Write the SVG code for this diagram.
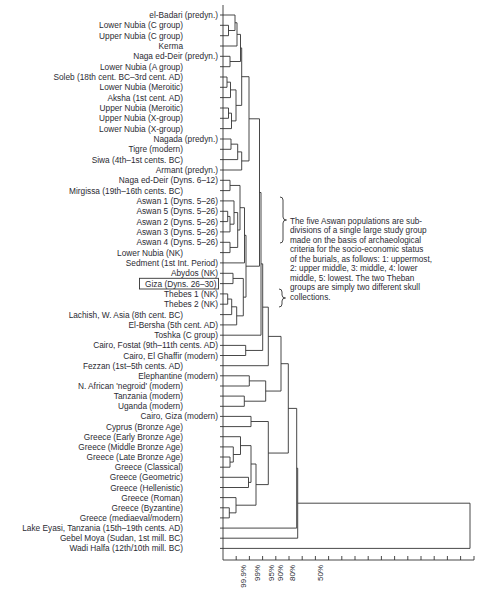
<svg xmlns="http://www.w3.org/2000/svg" width="504" height="594" viewBox="0 0 504 594">
<style>
text{font-family:"Liberation Sans",Arial,sans-serif;fill:#2b2b33}
.l{font-size:8.3px;text-anchor:end}
.n{font-size:8.2px}
.ax{font-size:8px;text-anchor:end}
.ln{fill:none;stroke:#333;stroke-width:0.9}
</style>
<rect width="504" height="594" fill="#fff"/>
<g id="leaves">
<g id="n1"><text class="l" x="218" y="18">el-Badari (predyn.)</text></g>
<g id="n2"><text class="l" x="183" y="28.3">Lower Nubia (C group)</text></g>
<g id="n3"><text class="l" x="183" y="38.7">Upper Nubia (C group)</text></g>
<g id="n4"><text class="l" x="183" y="49">Kerma</text></g>
<g id="n5"><text class="l" x="218" y="59.3">Naga ed-Deir (predyn.)</text></g>
<g id="n6"><text class="l" x="183" y="69.7">Lower Nubia (A group)</text></g>
<g id="n7"><text class="l" x="183" y="80">Soleb (18th cent. BC–3rd cent. AD)</text></g>
<g id="n8"><text class="l" x="183" y="90.3">Lower Nubia (Meroitic)</text></g>
<g id="n9"><text class="l" x="183" y="100.6">Aksha (1st cent. AD)</text></g>
<g id="n10"><text class="l" x="183" y="111">Upper Nubia (Meroitic)</text></g>
<g id="n11"><text class="l" x="183" y="121.3">Upper Nubia (X-group)</text></g>
<g id="n12"><text class="l" x="183" y="131.6">Lower Nubia (X-group)</text></g>
<g id="n13"><text class="l" x="218" y="142">Nagada (predyn.)</text></g>
<g id="n14"><text class="l" x="183" y="152.3">Tigre (modern)</text></g>
<g id="n15"><text class="l" x="183" y="162.6">Siwa (4th–1st cents. BC)</text></g>
<g id="n16"><text class="l" x="218" y="173">Armant (predyn.)</text></g>
<g id="n17"><text class="l" x="218" y="183.3">Naga ed-Deir (Dyns. 6–12)</text></g>
<g id="n18"><text class="l" x="183" y="193.6">Mirgissa (19th–16th cents. BC)</text></g>
<g id="n19"><text class="l" x="218" y="203.9">Aswan 1 (Dyns. 5–26)</text></g>
<g id="n20"><text class="l" x="218" y="214.3">Aswan 5 (Dyns. 5–26)</text></g>
<g id="n21"><text class="l" x="218" y="224.6">Aswan 2 (Dyns. 5–26)</text></g>
<g id="n22"><text class="l" x="218" y="234.9">Aswan 3 (Dyns. 5–26)</text></g>
<g id="n23"><text class="l" x="218" y="245.3">Aswan 4 (Dyns. 5–26)</text></g>
<g id="n24"><text class="l" x="183" y="255.6">Lower Nubia (NK)</text></g>
<g id="n25"><text class="l" x="218" y="265.9">Sedment (1st Int. Period)</text></g>
<g id="n26"><text class="l" x="218" y="276.3">Abydos (NK)</text></g>
<g id="n27"><rect x="139.5" y="278.3" width="79" height="10.7" fill="none" stroke="#333" stroke-width="0.9"/><text class="l" x="216.5" y="286.6">Giza (Dyns. 26–30)</text></g>
<g id="n28"><text class="l" x="218" y="296.9">Thebes 1 (NK)</text></g>
<g id="n29"><text class="l" x="218" y="307.2">Thebes 2 (NK)</text></g>
<g id="n30"><text class="l" x="183" y="317.6">Lachish, W. Asia (8th cent. BC)</text></g>
<g id="n31"><text class="l" x="218" y="327.9">El-Bersha (5th cent. AD)</text></g>
<g id="n32"><text class="l" x="218" y="338.2">Toshka (C group)</text></g>
<g id="n33"><text class="l" x="218" y="348.4">Cairo, Fostat (9th–11th cents. AD)</text></g>
<g id="n34"><text class="l" x="218" y="358.5">Cairo, El Ghaffir (modern)</text></g>
<g id="n35"><text class="l" x="183" y="368.7">Fezzan (1st–5th cents. AD)</text></g>
<g id="n36"><text class="l" x="218" y="378.8">Elephantine (modern)</text></g>
<g id="n37"><text class="l" x="183" y="389">N. African 'negroid' (modern)</text></g>
<g id="n38"><text class="l" x="183" y="399.1">Tanzania (modern)</text></g>
<g id="n39"><text class="l" x="183" y="409.3">Uganda (modern)</text></g>
<g id="n40"><text class="l" x="218" y="419.4">Cairo, Giza (modern)</text></g>
<g id="n41"><text class="l" x="183" y="429.6">Cyprus (Bronze Age)</text></g>
<g id="n42"><text class="l" x="183" y="439.7">Greece (Early Bronze Age)</text></g>
<g id="n43"><text class="l" x="183" y="449.9">Greece (Middle Bronze Age)</text></g>
<g id="n44"><text class="l" x="183" y="460">Greece (Late Bronze Age)</text></g>
<g id="n45"><text class="l" x="183" y="470.2">Greece (Classical)</text></g>
<g id="n46"><text class="l" x="183" y="480.3">Greece (Geometric)</text></g>
<g id="n47"><text class="l" x="183" y="490.5">Greece (Hellenistic)</text></g>
<g id="n48"><text class="l" x="183" y="500.6">Greece (Roman)</text></g>
<g id="n49"><text class="l" x="183" y="510.8">Greece (Byzantine)</text></g>
<g id="n50"><text class="l" x="183" y="520.9">Greece (mediaeval/modern)</text></g>
<g id="n51"><text class="l" x="183" y="531.1">Lake Eyasi, Tanzania (15th–19th cents. AD)</text></g>
<g id="n52"><text class="l" x="183" y="541.2">Gebel Moya (Sudan, 1st mill. BC)</text></g>
<g id="n53"><text class="l" x="183" y="551.4">Wadi Halfa (12th/10th mill. BC)</text></g>
</g>
<g id="connectors" class="ln">
<path d="M223,5 V560 H474 V556"/>
<path d="M236.2,560 v-4 M249.4,560 v-4 M262.6,560 v-4 M275.8,560 v-4 M289,560 v-4 M302.2,560 v-4 M315.4,560 v-4 M328.6,560 v-4 M341.8,560 v-4 M355,560 v-4 M368.2,560 v-4 M381.4,560 v-4 M394.6,560 v-4 M407.8,560 v-4 M421,560 v-4 M434.2,560 v-4 M447.4,560 v-4 M460.6,560 v-4"/>
<path d="M220,25.3 H228.5 V35.7 H220 M220,15 H235 V30.5 H228.5 M235,22.75 H237 V46 H220 M220,56.3 H230 V66.7 H220 M237,34.4 H240.5 V61.5 H230"/>
<path d="M220,77 H227 V87.3 H220 M227,82.15 H230.5 V97.6 H220 M220,108 H228.5 V118.3 H220 M228.5,113.15 H231.5 V128.6 H220 M230.5,89.9 H236 V120.9 H231.5 M240.5,47.95 H241.7 V105.4 H236"/>
<path d="M220,139 H231 V149.3 H220 M231,144.15 H237.7 V159.6 H220 M237.7,151.9 H241.7 V170 H220 M241.7,76.7 H249 V160.95 H241.7"/>
<path d="M220,180.3 H230 V190.6 H220 M220,211.3 H227.7 V221.6 H220 M227.7,216.45 H230 V231.9 H220 M220,200.9 H234 V224.2 H230 M220,242.3 H230 V252.6 H220 M234,212.55 H237.7 V247.45 H230 M230,185.45 H240 V230 H237.7 M240,207.7 H244.5 V262.9 H220"/>
<path d="M220,273.3 H233 V283.6 H220 M220,293.9 H227.7 V304.2 H220 M227.7,299.05 H231.7 V314.6 H220 M231.7,306.8 H236.7 V324.9 H220 M233,278.45 H243.3 V315.85 H236.7 M244.5,235.3 H246 V297.15 H243.3"/>
<path d="M249,118.8 H259.5 V266.2 H246 M259.5,192.5 H261 V335.2 H220 M220,345.4 H245.7 V355.5 H220 M261,263.85 H262.7 V350.45 H245.7 M262.7,307.15 H268.3 V365.7 H220"/>
<path d="M220,375.8 H249.3 V386 H220 M220,396.1 H244.3 V406.3 H220 M249.3,380.9 H265.7 V401.2 H244.3 M268.3,336.4 H281 V391.05 H265.7"/>
<path d="M220,416.4 H251 V426.6 H220 M220,457 H230 V467.2 H220 M220,446.9 H233.3 V462.1 H230 M220,436.7 H240.5 V454.5 H233.3 M220,477.3 H248.5 V487.5 H220 M240.5,445.6 H251 V482.4 H248.5 M220,507.8 H229.3 V517.9 H220 M220,497.6 H236 V512.85 H229.3 M251,464 H256 V505.2 H236 M251,421.5 H268.3 V484.6 H256"/>
<path d="M281,363.7 H288.3 V453.05 H268.3 M288.3,408.4 H296.7 V528.1 H220 M296.7,468.25 H297.7 V538.2 H220 M297.7,503.2 H470 V548.4 H220"/>
</g>
<g id="axis-labels">
<text class="ax" transform="translate(246,565) rotate(-90)">99.9%</text>
<text class="ax" transform="translate(260,565) rotate(-90)">99%</text>
<text class="ax" transform="translate(273.5,565) rotate(-90)">95%</text>
<text class="ax" transform="translate(282.5,565) rotate(-90)">90%</text>
<text class="ax" transform="translate(294.5,565) rotate(-90)">80%</text>
<text class="ax" transform="translate(323,565) rotate(-90)">50%</text>
</g>
<g id="note">
<path class="ln" d="M280,197 Q283,197 283,200 L283,217 Q283,220 286.5,220 Q283,220 283,223 L283,240 Q283,243 280,243"/>
<path class="ln" d="M279,289 Q282,289 282,292 L282,295 Q282,298 285.5,298 Q282,298 282,301 L282,304 Q282,307 279,307"/>
<text class="n" x="290" y="223.7">The five Aswan populations are sub-</text>
<text class="n" x="290" y="233.2">divisions of a single large study group</text>
<text class="n" x="290" y="242.7">made on the basis of archaeological</text>
<text class="n" x="290" y="252.2">criteria for the socio-economic status</text>
<text class="n" x="290" y="261.7">of the burials, as follows: 1: uppermost,</text>
<text class="n" x="290" y="271.2">2: upper middle, 3: middle, 4: lower</text>
<text class="n" x="290" y="280.7">middle, 5: lowest. The two Theban</text>
<text class="n" x="290" y="290.2">groups are simply two different skull</text>
<text class="n" x="290" y="299.7">collections.</text>
</g>
</svg>
